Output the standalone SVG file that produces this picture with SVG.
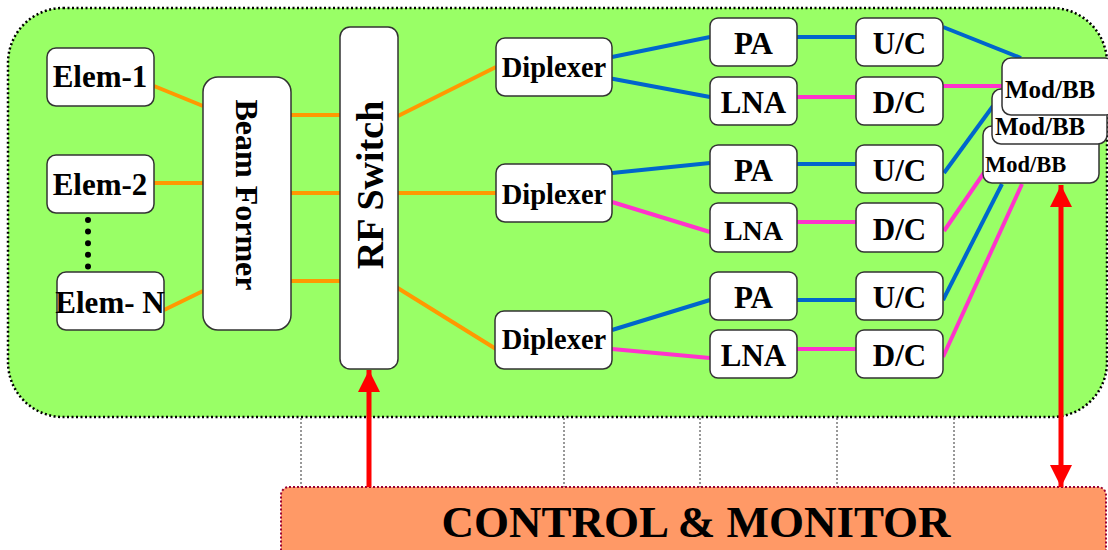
<svg xmlns="http://www.w3.org/2000/svg" width="1108" height="550" viewBox="0 0 1108 550">
<style>
.node{fill:#fff;stroke:#333;stroke-width:1.5}
.t{font-family:"Liberation Serif","Times New Roman",serif;font-weight:bold;fill:#000}
.or{stroke:#FF9900;stroke-width:4;fill:none}
.bl{stroke:#0066CC;stroke-width:4;fill:none}
.mg{stroke:#FF33CC;stroke-width:4;fill:none}
.red{stroke:#FF0000;stroke-width:5;fill:none}
.vd{stroke:#333;stroke-width:1;stroke-dasharray:2 2}
</style>
<defs>
<marker id="ah" viewBox="0 0 22 22" refX="22" refY="11" markerWidth="22" markerHeight="22" markerUnits="userSpaceOnUse" orient="auto-start-reverse">
<path d="M0,0 L22,11 L0,22 Z" fill="#FF0000"/>
</marker>
</defs>
<g id="container">
<rect x="8" y="8" width="1099" height="409" rx="55" ry="55" fill="#99FF66" stroke="#000" stroke-width="2.5" stroke-dasharray="2 2.5"/>
</g>
<g id="dividers">
<line class="vd" x1="301" y1="418" x2="301" y2="487"/>
<line class="vd" x1="564" y1="418" x2="564" y2="487"/>
<line class="vd" x1="700" y1="418" x2="700" y2="487"/>
<line class="vd" x1="837" y1="418" x2="837" y2="487"/>
<line class="vd" x1="954" y1="418" x2="954" y2="487"/>
</g>
<g id="control">
<rect x="281" y="487" width="825" height="80" rx="8" fill="#FF9966" stroke="#990033" stroke-width="2" stroke-dasharray="2 2"/>
<text class="t" x="696" y="537" font-size="45" text-anchor="middle">CONTROL &amp; MONITOR</text>
</g>
<g id="connectors">
<line class="or" x1="154" y1="86" x2="203" y2="106"/>
<line class="or" x1="154" y1="183" x2="203" y2="183"/>
<line class="or" x1="164" y1="310" x2="203" y2="291"/>
<line class="or" x1="291" y1="115" x2="340" y2="115"/>
<line class="or" x1="291" y1="193" x2="340" y2="193"/>
<line class="or" x1="291" y1="281" x2="340" y2="281"/>
<line class="or" x1="398" y1="116" x2="496" y2="67"/>
<line class="or" x1="398" y1="193" x2="496" y2="193"/>
<line class="or" x1="388" y1="282" x2="496" y2="349"/>
<line class="bl" x1="612" y1="57" x2="710" y2="37"/>
<line class="bl" x1="603" y1="77" x2="710" y2="97"/>
<line class="bl" x1="612" y1="173" x2="710" y2="163"/>
<line class="mg" x1="612" y1="202" x2="710" y2="232"/>
<line class="bl" x1="612" y1="330" x2="710" y2="300"/>
<line class="mg" x1="612" y1="349" x2="710" y2="358"/>
<line class="bl" x1="797" y1="37" x2="856" y2="37"/>
<line class="mg" x1="797" y1="97" x2="856" y2="97"/>
<line class="bl" x1="797" y1="164" x2="856" y2="164"/>
<line class="mg" x1="797" y1="222" x2="856" y2="222"/>
<line class="bl" x1="797" y1="300" x2="856" y2="300"/>
<line class="mg" x1="797" y1="349" x2="856" y2="349"/>
<line class="bl" x1="943" y1="27" x2="1021" y2="58"/>
<line class="mg" x1="943" y1="86" x2="1002" y2="86"/>
<line class="bl" x1="944" y1="173" x2="993" y2="106"/>
<line class="mg" x1="944" y1="231" x2="1003" y2="145"/>
<line class="bl" x1="943" y1="300" x2="1002" y2="184"/>
<line class="mg" x1="943" y1="357" x2="1022" y2="184"/>
<line x1="88" y1="220" x2="88" y2="267" stroke="#000" stroke-width="6" stroke-linecap="round" stroke-dasharray="0 11.6"/>
<line class="red" x1="369" y1="487" x2="369" y2="370" marker-end="url(#ah)"/>
<line class="red" x1="1061" y1="185" x2="1061" y2="487" marker-start="url(#ah)" marker-end="url(#ah)"/>
</g>
<g id="elem1"><rect class="node" x="47" y="48" width="107" height="58" rx="9"/><text class="t" x="100" y="87" font-size="31" text-anchor="middle">Elem-1</text></g>
<g id="elem2"><rect class="node" x="47" y="155" width="107" height="58" rx="9"/><text class="t" x="100" y="195" font-size="31" text-anchor="middle">Elem-2</text></g>
<g id="elemN"><rect class="node" x="57" y="272" width="107" height="58" rx="9"/><text class="t" x="110" y="313" font-size="31" text-anchor="middle">Elem- N</text></g>
<g id="beamformer"><rect class="node" x="203" y="77" width="88" height="253" rx="15"/><text class="t" transform="translate(247,195) rotate(90)" x="0" y="11" font-size="32" text-anchor="middle">Beam Former</text></g>
<g id="rfswitch"><rect class="node" x="340" y="27" width="58" height="342" rx="10"/><text class="t" transform="translate(370,185) rotate(-90)" x="0" y="13" font-size="38" text-anchor="middle">RF Switch</text></g>
<g id="dip1"><rect class="node" x="496" y="38" width="116" height="58" rx="9"/><text class="t" x="554" y="77" font-size="28.5" text-anchor="middle">Diplexer</text></g>
<g id="dip2"><rect class="node" x="496" y="164" width="116" height="58" rx="9"/><text class="t" x="554" y="204" font-size="28.5" text-anchor="middle">Diplexer</text></g>
<g id="dip3"><rect class="node" x="495" y="311" width="117" height="58" rx="9"/><text class="t" x="554" y="349" font-size="28.5" text-anchor="middle">Diplexer</text></g>
<g id="pa1"><rect class="node" x="710" y="18" width="87" height="48" rx="8"/><text class="t" x="753.5" y="54" font-size="31" text-anchor="middle">PA</text></g>
<g id="lna1"><rect class="node" x="710" y="77" width="87" height="48" rx="8"/><text class="t" x="753.5" y="113" font-size="31" text-anchor="middle">LNA</text></g>
<g id="pa2"><rect class="node" x="710" y="145" width="87" height="48" rx="8"/><text class="t" x="753.5" y="181" font-size="31" text-anchor="middle">PA</text></g>
<g id="lna2"><rect class="node" x="710" y="203" width="87" height="49" rx="8"/><text class="t" x="753.5" y="240" font-size="28" text-anchor="middle">LNA</text></g>
<g id="pa3"><rect class="node" x="710" y="272" width="87" height="48" rx="8"/><text class="t" x="753.5" y="308" font-size="31" text-anchor="middle">PA</text></g>
<g id="lna3"><rect class="node" x="710" y="330" width="87" height="48" rx="8"/><text class="t" x="753.5" y="366" font-size="31" text-anchor="middle">LNA</text></g>
<g id="uc1"><rect class="node" x="856" y="18" width="87" height="48" rx="8"/><text class="t" x="899.5" y="54" font-size="31" text-anchor="middle">U/C</text></g>
<g id="dc1"><rect class="node" x="856" y="77" width="87" height="48" rx="8"/><text class="t" x="899.5" y="113" font-size="31" text-anchor="middle">D/C</text></g>
<g id="uc2"><rect class="node" x="856" y="145" width="87" height="48" rx="8"/><text class="t" x="899.5" y="181" font-size="31" text-anchor="middle">U/C</text></g>
<g id="dc2"><rect class="node" x="856" y="203" width="87" height="49" rx="8"/><text class="t" x="899.5" y="240" font-size="31" text-anchor="middle">D/C</text></g>
<g id="uc3"><rect class="node" x="856" y="272" width="87" height="48" rx="8"/><text class="t" x="899.5" y="308" font-size="31" text-anchor="middle">U/C</text></g>
<g id="dc3"><rect class="node" x="856" y="330" width="87" height="48" rx="8"/><text class="t" x="899.5" y="366" font-size="31" text-anchor="middle">D/C</text></g>
<g id="modbb3"><rect class="node" x="983" y="126" width="116" height="57" rx="9"/><text class="t" x="985" y="172" font-size="22.5">Mod/BB</text></g>
<g id="modbb2"><rect class="node" x="992" y="89" width="115" height="55" rx="9"/><text class="t" x="995" y="135" font-size="25">Mod/BB</text></g>
<g id="modbb1"><rect class="node" x="1002" y="58" width="112" height="57" rx="9"/><text class="t" x="1005" y="98" font-size="25">Mod/BB</text></g>
</svg>
